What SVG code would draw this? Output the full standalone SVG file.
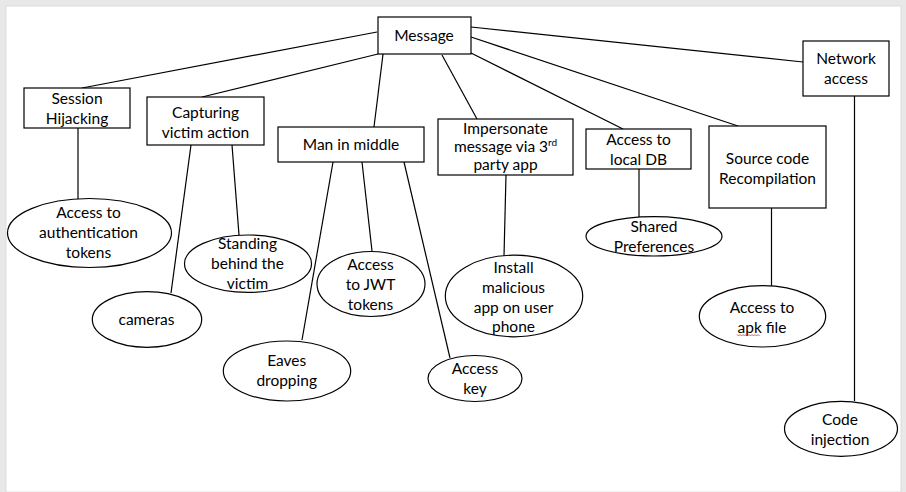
<svg xmlns="http://www.w3.org/2000/svg" width="906" height="492" viewBox="0 0 906 492">
<style>
.n{fill:#fff;stroke:#000;stroke-width:1.2}
.c line{stroke:#000;stroke-width:1.2}
text{font-family:Lato,"Liberation Sans",sans-serif;font-size:15.5px;fill:#000;text-anchor:middle}
</style>
<rect x="0" y="0" width="906" height="492" fill="#e8e8e8"/>
<rect x="6" y="6" width="895" height="486" fill="#fff" stroke="#d8d8d8" stroke-width="0.8"/>
<g id="connectors" class="c">
<line x1="377" y1="32" x2="82" y2="88"/>
<line x1="378" y1="54" x2="202" y2="97"/>
<line x1="383" y1="54" x2="374" y2="127"/>
<line x1="442" y1="55" x2="477" y2="119"/>
<line x1="471" y1="53" x2="623" y2="129"/>
<line x1="471" y1="37" x2="738" y2="126"/>
<line x1="471" y1="27" x2="803" y2="62"/>
<line x1="78" y1="128" x2="78" y2="199"/>
<line x1="191" y1="145" x2="171" y2="293"/>
<line x1="232" y1="145" x2="239" y2="235"/>
<line x1="333" y1="162" x2="302" y2="340"/>
<line x1="362" y1="162" x2="372" y2="251"/>
<line x1="404" y1="162" x2="450" y2="358"/>
<line x1="506" y1="175" x2="504" y2="256"/>
<line x1="639" y1="169" x2="639" y2="217"/>
<line x1="771.5" y1="208" x2="771.5" y2="286"/>
<line x1="854.5" y1="96" x2="854.5" y2="401"/>
</g>
<g id="message"><rect class="n" x="378" y="17" width="93" height="37"/><text x="424" y="41">Message</text></g>
<g id="session"><rect class="n" x="24" y="88" width="106" height="40"/><text x="77" y="104">Session</text><text x="77" y="124">Hijacking</text></g>
<g id="capturing"><rect class="n" x="147" y="97" width="117" height="48"/><text x="205.5" y="118">Capturing</text><text x="205.5" y="137.5">victim action</text></g>
<g id="mim"><rect class="n" x="278" y="127" width="146" height="35"/><text x="351" y="150">Man in middle</text></g>
<g id="impersonate"><rect class="n" x="438" y="119" width="135" height="56"/><text x="505.5" y="133.5">Impersonate</text><text x="505.5" y="152">message via 3<tspan font-size="10px" dy="-6">rd</tspan></text><text x="505.5" y="170">party app</text></g>
<g id="localdb"><rect class="n" x="586" y="129" width="105" height="40"/><text x="638.5" y="145">Access to</text><text x="638.5" y="165">local DB</text></g>
<g id="source"><rect class="n" x="709" y="126" width="117" height="82"/><text x="767.5" y="163.5">Source code</text><text x="767.5" y="183.5">Recompilation</text></g>
<g id="network"><rect class="n" x="803" y="41" width="86" height="55"/><text x="846" y="64">Network</text><text x="846" y="83.5">access</text></g>
<g id="authtokens"><ellipse class="n" cx="89.5" cy="233" rx="82" ry="34.5"/><text x="88.5" y="218">Access to</text><text x="88.5" y="238">authentication</text><text x="88.5" y="257.5">tokens</text></g>
<g id="cameras"><ellipse class="n" cx="147" cy="319.5" rx="54.7" ry="27.8"/><text x="146.5" y="325">cameras</text></g>
<g id="standing"><ellipse class="n" cx="248" cy="263.7" rx="63.5" ry="28.7"/><text x="247.5" y="249">Standing</text><text x="247.5" y="269">behind the</text><text x="247.5" y="289">victim</text></g>
<g id="jwt"><ellipse class="n" cx="371" cy="284" rx="54" ry="32.5"/><text x="370.5" y="270">Access</text><text x="370.5" y="290">to JWT</text><text x="370.5" y="310">tokens</text></g>
<g id="eaves"><ellipse class="n" cx="287" cy="371" rx="63.7" ry="30"/><text x="286.7" y="366">Eaves</text><text x="286.7" y="386">dropping</text></g>
<g id="accesskey"><ellipse class="n" cx="475" cy="378.5" rx="47" ry="23"/><text x="475" y="374">Access</text><text x="475" y="393.5">key</text></g>
<g id="install"><ellipse class="n" cx="514" cy="296" rx="68.7" ry="40.8"/><text x="513.5" y="272.5">Install</text><text x="513.5" y="292.5">malicious</text><text x="513.5" y="312.5">app on user</text><text x="513.5" y="332">phone</text></g>
<g id="shared"><ellipse class="n" cx="654" cy="236.3" rx="68" ry="19.7"/><text x="654" y="232">Shared</text><text x="654" y="252">Preferences</text></g>
<g id="apk"><ellipse class="n" cx="762.5" cy="316.3" rx="63.2" ry="30.7"/><text x="762" y="312.5">Access to</text><text x="762" y="332.5">apk file</text><path d="M737 334.5 l1.5 1.5 l1.5 -1.5 l1.5 1.5 l1.5 -1.5 l1.5 1.5 l1.5 -1.5 l1.5 1.5 l1.5 -1.5 l1.5 1.5 l1.5 -1.5 l1.5 1.5 l1.5 -1.5 l1.5 1.5 l1.5 -1.5 l1.5 1.5" fill="none" stroke="#e03030" stroke-width="0.8"/></g>
<g id="codeinj"><ellipse class="n" cx="841" cy="428.8" rx="56.5" ry="27.5"/><text x="840" y="425">Code</text><text x="840" y="445">injection</text></g>
</svg>
